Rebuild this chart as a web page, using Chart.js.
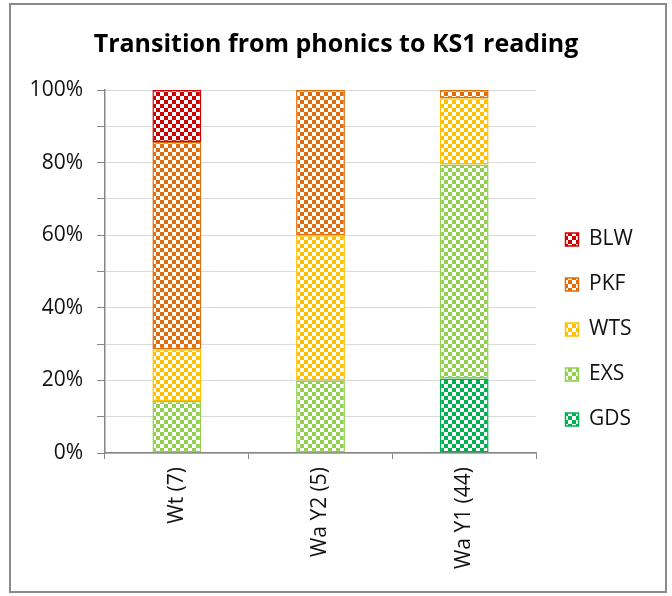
<!DOCTYPE html>
<html><head><meta charset="utf-8">
<script src="https://cdn.jsdelivr.net/npm/chart.js@4"></script>
<style>
html,body{margin:0;padding:0;background:#fff;}
#wrap{position:relative;width:672px;height:596px;}
#frame{position:absolute;left:9px;top:3px;width:654px;height:586px;border:2px solid #8a8a8a;pointer-events:none;}
canvas{display:block;}
</style></head><body>
<div id="wrap"><canvas id="c" width="672" height="596"></canvas><div id="frame"></div></div>
<script>
// ---- data ----
const categories = ['Wt (7)', 'Wa Y2 (5)', 'Wa Y1 (44)'];
const seriesNames = ['GDS', 'EXS', 'WTS', 'PKF', 'BLW'];
const gdsValues = [null, null, 20.5];
const exsValues = [14.3, 20.0, 59.0];
const wtsValues = [14.3, 40.0, 18.2];
const pkfValues = [57.1, 40.0, 2.3];
const blwValues = [14.3, null, null];
const yTickValues = [0, 20, 40, 60, 80, 100];
const chartTitle = 'Transition from phonics to KS1 reading';

// ---- styles ----
const colors = ['#00b050', '#92d050', '#ffc000', '#e36c0a', '#d00000'];
const FONT = '"Open Sans", "Liberation Sans", sans-serif';

function makePattern(color) {
  const t = document.createElement('canvas');
  t.width = 8; t.height = 8;
  const g = t.getContext('2d');
  g.fillStyle = '#ffffff';
  g.fillRect(0, 0, 8, 8);
  g.fillStyle = color;
  g.fillRect(0, 0, 4, 4);
  g.fillRect(4, 4, 4, 4);
  return document.getElementById('c').getContext('2d').createPattern(t, 'repeat');
}

const seriesValues = [gdsValues, exsValues, wtsValues, pkfValues, blwValues];
const datasets = seriesNames.map((name, i) => ({
  label: name,
  data: seriesValues[i],
  backgroundColor: makePattern(colors[i]),
  borderColor: colors[i],
  borderWidth: 1.5,
  borderSkipped: false,
  categoryPercentage: 1,
  barPercentage: 0.34
}));

const layoutFix = {
  id: 'layoutFix',
  afterInit(chart) {
    const lg = chart.legend;
    const orig = lg.fit.bind(lg);
    lg.fit = function () { orig(); this.width = 136; };
  },
  afterLayout(chart) {
    const lg = chart.legend;
    const h = lg.bottom - lg.top;
    lg.left = 541.5; lg.right = lg.left + lg.width;
    lg.top = 205; lg.bottom = lg.top + h;
  }
};

new Chart(document.getElementById('c'), {
  type: 'bar',
  data: { labels: categories, datasets },
  plugins: [layoutFix],
  options: {
    responsive: false,
    devicePixelRatio: 1,
    animation: false,
    layout: { padding: { top: 14, left: 0, right: 0, bottom: 0 } },
    plugins: {
      title: {
        display: true,
        text: chartTitle,
        color: '#000',
        font: { family: FONT, size: 25, weight: 'bold', lineHeight: 1.2 },
        padding: { top: 16, bottom: 30 }
      },
      legend: {
        position: 'right',
        align: 'start',
        reverse: true,
        labels: {
          color: '#111',
          font: { family: FONT, size: 21 },
          boxWidth: 13,
          boxHeight: 13,
          padding: 24
        }
      },
      tooltip: { enabled: false }
    },
    scales: {
      x: {
        stacked: true,
        afterFit(s) { s.height = 143; },
        grid: { drawOnChartArea: false, drawTicks: true, tickLength: 6, tickColor: '#868686', offset: true },
        border: { color: '#868686', width: 1.5 },
        ticks: {
          color: '#111',
          font: { family: FONT, size: 21 },
          minRotation: 90, maxRotation: 90,
          autoSkip: false,
          padding: 8
        }
      },
      y: {
        stacked: true,
        min: 0, max: 100,
        afterFit(s) { s.width = 105; },
        grid: { color: '#d9d9d9', tickColor: '#868686', tickLength: 8, lineWidth: 1 },
        border: { color: '#868686', width: 1.5 },
        ticks: {
          stepSize: 10,
          color: '#111',
          font: { family: FONT, size: 21 },
          padding: 14,
          callback: v => yTickValues.includes(v) ? v + '%' : ''
        }
      }
    }
  }
});
</script>
</body></html>
